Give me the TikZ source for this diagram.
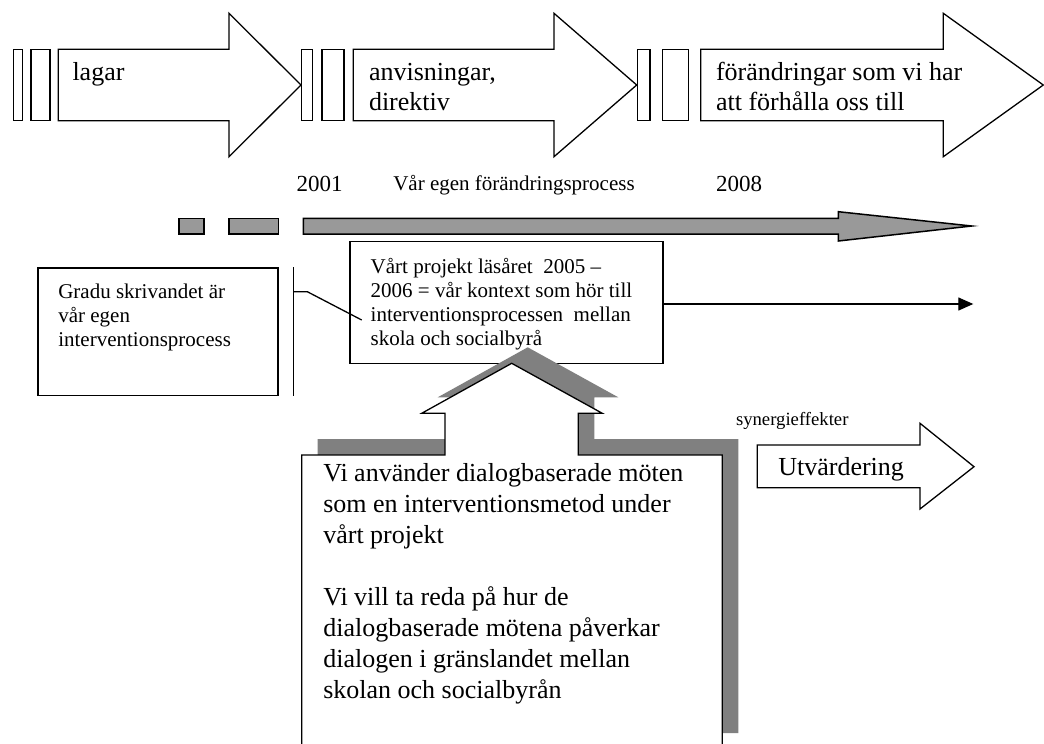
\documentclass[tikz,border=0pt]{standalone}
\usepackage{fontspec}
\setmainfont{Liberation Serif}
\usetikzlibrary{arrows.meta}
\definecolor{bargray}{HTML}{999999}
\definecolor{shadowgray}{HTML}{808080}
\newcommand{\txtblock}[2]{\parbox[t]{#1}{\raggedright #2}}

\begin{document}
\begin{tikzpicture}[x=1pt,y=-1pt,
  outline/.style={draw=black,line width=1.3pt,fill=white,line join=miter},
  grayshape/.style={draw=black,line width=1.5pt,fill=bargray},
  txt/.style={anchor=base west,inner sep=0pt,outer sep=0pt},
  bigfont/.style={txt,font=\fontsize{26}{30}\selectfont},
  midfont/.style={txt,font=\fontsize{21}{24.3}\selectfont},
  yearfont/.style={txt,font=\fontsize{23}{26}\selectfont},
  smallfont/.style={txt,font=\fontsize{18.7}{21}\selectfont},
  thin/.style={draw=black,line width=1.3pt},
  boxnode/.style={draw=black,line width=1.3pt,fill=white,inner sep=0pt,anchor=north west}]
\useasboundingbox (0,0) rectangle (1044,744);
\clip (0,0) rectangle (1044,744);
\fill[white] (0,0) rectangle (1044,744);

% top row: separator bars and the three white block arrows
\foreach \a/\b in {13.3/22.7, 31/50, 301.7/312.5, 322/344, 637.5/650, 662.7/688.3}
  \draw[outline] (\a,49.3) rectangle (\b,120.7);
\draw[outline] (58.3,49.3) -- (229,49.3) -- (229,13.3) -- (301,85) -- (229,156.7) -- (229,120.7) -- (58.3,120.7) -- cycle;
\draw[outline] (353.3,49.3) -- (554,49.3) -- (554,13.3) -- (636.7,85) -- (554,156.7) -- (554,120.7) -- (353.3,120.7) -- cycle;
\draw[outline] (700.7,49.3) -- (943.3,49.3) -- (943.3,13.3) -- (1043.3,85) -- (943.3,156.7) -- (943.3,120.7) -- (700.7,120.7) -- cycle;

\node[bigfont] (lagar) at (72.5,80) {lagar};
\node[bigfont] (anvis) at (369,80) {\txtblock{200pt}{anvisningar,\\direktiv}};
\node[bigfont] (forandr) at (716,80) {\txtblock{300pt}{förändringar som vi har\\att förhålla oss till}};

% time line labels
\node[yearfont] (y2001) at (296.7,191.7) {2001};
\node[midfont] (egen) at (393.3,190) {Vår egen förändringsprocess};
\node[yearfont] (y2008) at (716,191.7) {2008};

% grey process arrow
\draw[grayshape] (179,218.3) rectangle (204,234);
\draw[grayshape] (229,218.3) rectangle (278.3,234);
\draw[grayshape] (303.3,218.3) -- (838.3,218.3) -- (838.3,211.7) -- (971.7,226) -- (838.3,241) -- (838.3,234) -- (303.3,234) -- cycle;

% project box and its arrow
\node[boxnode,minimum width=313pt,minimum height=122pt] (vart) at (349.3,241) {};
\coordinate (synend) at (973.3,304);
\draw[thin,-{Triangle[length=15pt,width=13pt]}] (vart.east |- synend) -- (synend);

% thesis box, divider and link
\node[boxnode,minimum width=240pt,minimum height=127.7pt] (gradu) at (37.3,267.3) {};
\node[midfont] (gradutxt) at (58.3,298) {\txtblock{220pt}{Gradu skrivandet är\\vår egen\\interventionsprocess}};
\coordinate (divtop) at (293.3,267.3);
\coordinate (divbot) at (293.3,395.7);
\draw[thin] (divtop) -- (divbot);
\coordinate (linkA) at (293.3,291.7);
\coordinate (linkB) at (307.3,291.7);
\coordinate (linkC) at (361.7,320);
\draw[thin] (linkA) -- (linkB) -- (linkC);

\node[smallfont] (synergi) at (736,425) {synergieffekter};

% method callout with its shadow
\fill[shadowgray] (317.7,439) -- (461,439) -- (461,397.3) -- (437.7,397.3) -- (527.7,347.3) -- (618.3,397.3) -- (594.3,397.3) -- (594.3,439) -- (738.3,439) -- (738.3,733) -- (317.7,733) -- cycle;
\draw[outline] (301.7,455) -- (445,455) -- (445,413.3) -- (421.7,413.3) -- (511.7,363.3) -- (602.3,413.3) -- (578.3,413.3) -- (578.3,455) -- (722.3,455) -- (722.3,752) -- (301.7,752) -- cycle;

\node[midfont] (varttxt) at (370.7,273) {\txtblock{290pt}{Vårt projekt läsåret\ \ 2005 –\\2006 = vår kontext som hör till\\interventionsprocessen\ \ mellan\\skola och socialbyrå}};

\node[txt,font=\fontsize{26}{31}\selectfont] (metod) at (323.3,481) {\txtblock{395pt}{Vi använder dialogbaserade möten\\som en interventionsmetod under\\vårt projekt\\[31pt]Vi vill ta reda på hur de\\dialogbaserade mötena påverkar\\dialogen i gränslandet mellan\\skolan och socialbyrån}};

% evaluation arrow
\draw[outline] (757.3,445) -- (920,445) -- (920,423.3) -- (974,466.7) -- (920,509) -- (920,487.7) -- (757.3,487.7) -- cycle;
\node[bigfont] (utv) at (778.3,475) {Utvärdering};
\end{tikzpicture}
\end{document}
